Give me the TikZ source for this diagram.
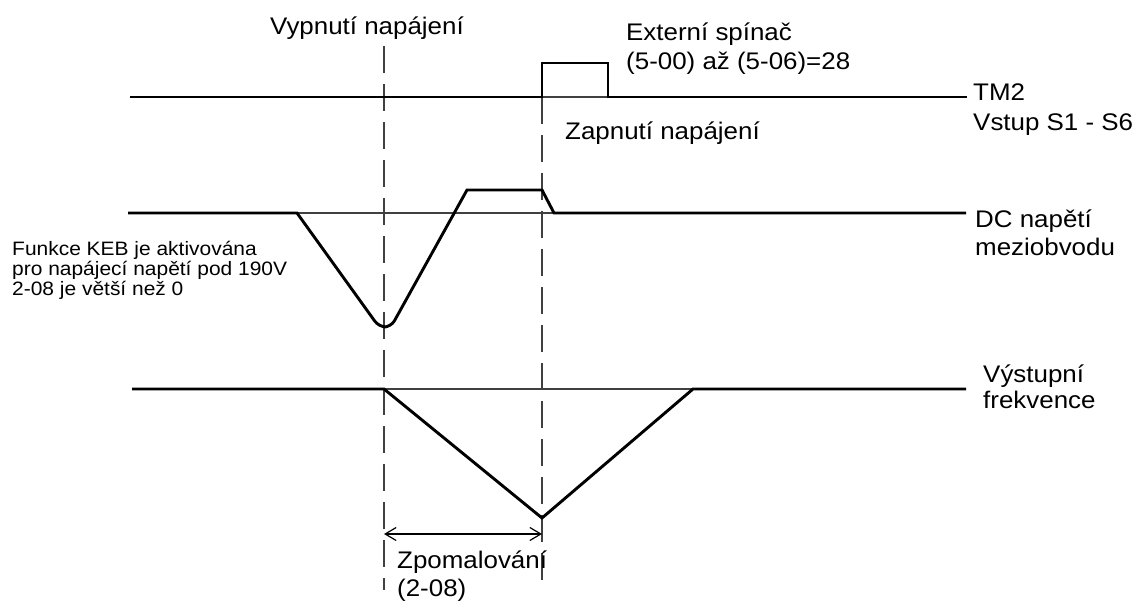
\documentclass[tikz,border=0pt]{standalone}
\usepackage{fontspec}
\setmainfont[FakeStretch=1.08]{Liberation Sans}
\usetikzlibrary{arrows.meta}
\definecolor{guide}{HTML}{404040}
\begin{document}
\begin{tikzpicture}[x=1pt,y=-1pt,
  signal/.style={line width=2.9pt,line join=miter,black},
  baseline ref/.style={line width=1.4pt,guide},
  marker/.style={line width=1.4pt,guide,dash pattern=on 27pt off 11pt},
  lbl/.style={anchor=base west,inner sep=0pt,font=\fontsize{24}{30}\selectfont},
  note/.style={anchor=base west,inner sep=0pt,align=left,font=\fontsize{19.4}{19.5}\selectfont},
  dim/.style={line width=1.2pt,black,{Straight Barb[length=11pt,width=13pt]}-{Straight Barb[length=11pt,width=13pt]}}]
\useasboundingbox (0,0) rectangle (1142,601);

% time markers: power off and power on
\draw[marker] (384,46) -- (384,590);
\draw[marker] (542,97) -- (542,586);

% TM2 input S1 - S6
\draw[baseline ref] (542,97) -- (608,97);
\draw[signal] (130,97) -- (542,97) -- (542,63) -- (608,63) -- (608,97) -- (967,97);

% DC bus voltage
\draw[baseline ref] (297,213) -- (554,213);
\draw[signal] (128,213) -- (297,213)
  [rounded corners=7pt] -- (379,327) -- (391,327) [sharp corners] -- (467,190)
  -- (542,190) -- (554,213) -- (966,213);

% output frequency
\draw[baseline ref] (384,389) -- (693,389);
\draw[signal] (132,389) -- (384,389) -- (542,518) -- (693,389) -- (966,389);

% deceleration time
\coordinate (decA) at (384,534);
\coordinate (decB) at (542,534);
\draw[dim] (decA) -- (decB);

% labels
\node[lbl] (poweroff) at (270,35) {Vypnutí napájení};
\node[lbl] (ext1) at (626,41) {Externí spínač};
\node[lbl] (ext2) at (626,70) {(5-00) až (5-06)=28};
\node[lbl] (poweron) at (565,140) {Zapnutí napájení};
\node[lbl] (tm1) at (973,101) {TM2};
\node[lbl] (tm2) at (973,131) {Vstup S1 - S6};
\node[lbl] (dc1) at (975,228) {DC napětí};
\node[lbl] (dc2) at (975,256) {meziobvodu};
\node[lbl] (fo1) at (983,382) {Výstupní};
\node[lbl] (fo2) at (983,408) {frekvence};
\node[lbl] (dec1) at (397,568) {Zpomalování};
\node[lbl] (dec2) at (397,596) {(2-08)};
\node[note] (keb1) at (12,256) {Funkce KEB je aktivována};
\node[note] (keb2) at (12,275.5) {pro napájecí napětí pod 190V};
\node[note] (keb3) at (12,295) {2-08 je větší než 0};
\end{tikzpicture}
\end{document}
